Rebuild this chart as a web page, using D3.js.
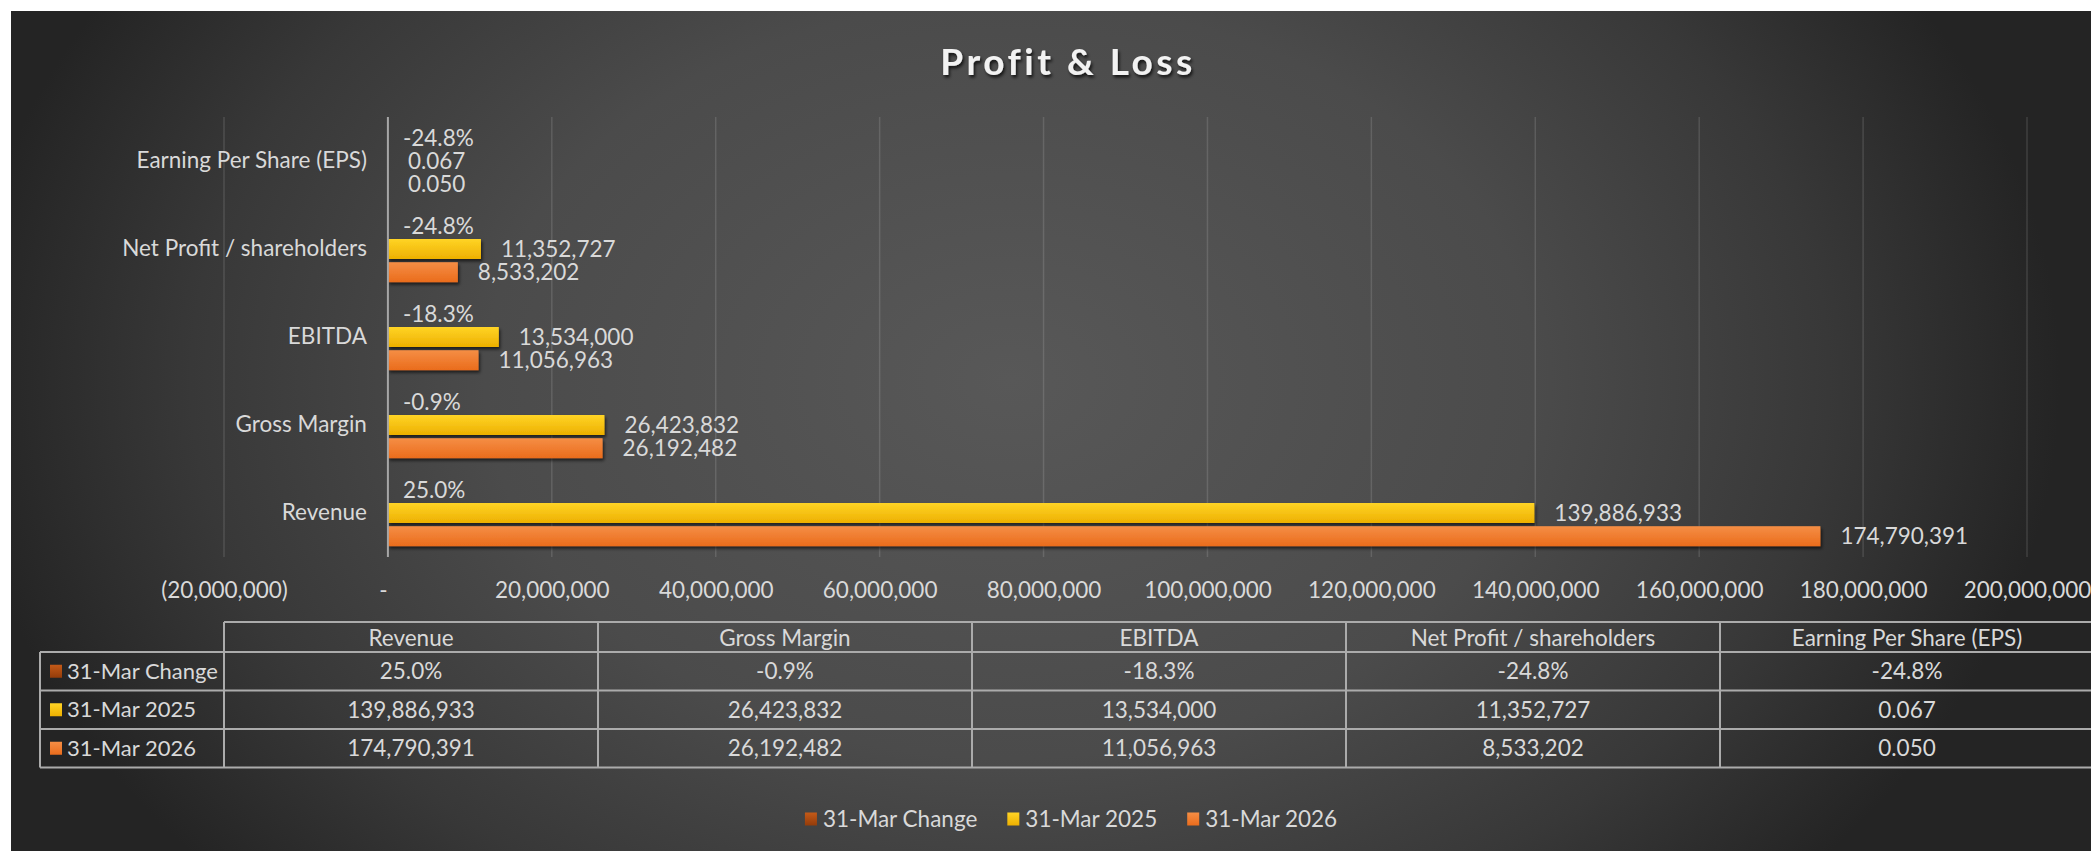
<!DOCTYPE html>
<html><head><meta charset="utf-8">
<script src="https://cdn.jsdelivr.net/npm/d3@7"></script>
<style>
html,body{margin:0;padding:0;background:#fff;}
svg{display:block;font-family:Lato,"Open Sans",sans-serif;}
</style></head><body>
<svg id="chart" width="2091" height="851"></svg>
<script>
// ---------- data ----------
const categories = ["Revenue","Gross Margin","EBITDA","Net Profit / shareholders","Earning Per Share (EPS)"];
const seriesNames = ["31-Mar Change","31-Mar 2025","31-Mar 2026"];
const changeValues = [0.250,-0.009,-0.183,-0.248,-0.248];
const values2025 = [139886933,26423832,13534000,11352727,0.067];
const values2026 = [174790391,26192482,11056963,8533202,0.050];
const xTickValues = [-20000000,0,20000000,40000000,60000000,80000000,100000000,120000000,140000000,160000000,180000000,200000000];
const chartTitle = "Profit & Loss";

// ---------- setup ----------
const seriesValues = [changeValues, values2025, values2026];
const seriesGrad = [["#C45A18","#943C0A"],["#FFD426","#EDB000"],["#F58E45","#EA6C1C"]];
const textCol = "#D9D9D9";
const fs = 22.5;

const loc = d3.formatLocale({decimal:".",thousands:",",grouping:[3],currency:["",""],minus:"-"});
const fmtPct = loc.format(".1%");
const fmtInt = loc.format(",.0f");
const fmtDec = loc.format(".3f");
const fmtVal = v => Math.abs(v) < 1 ? fmtDec(v) : fmtInt(v);
const fmtTick = v => v === 0 ? "-" : (v < 0 ? "(" + fmtInt(-v) + ")" : fmtInt(v));

const svg = d3.select("#chart");
const defs = svg.append("defs");

const bg = defs.append("radialGradient").attr("id","bg").attr("gradientUnits","userSpaceOnUse")
  .attr("cx",1010).attr("cy",380).attr("r",1050).attr("fx",1010).attr("fy",380)
  .attr("gradientTransform","translate(1010,380) scale(1,0.72) translate(-1010,-380)");
bg.append("stop").attr("offset",0).attr("stop-color","#585858");
bg.append("stop").attr("offset",0.5).attr("stop-color","#4b4b4b");
bg.append("stop").attr("offset",0.78).attr("stop-color","#383838");
bg.append("stop").attr("offset",1).attr("stop-color","#242424");

seriesGrad.forEach((g,i)=>{
  const lg = defs.append("linearGradient").attr("id","sg"+i).attr("x1",0).attr("y1",0).attr("x2",0).attr("y2",1);
  lg.append("stop").attr("offset",0).attr("stop-color",g[0]);
  lg.append("stop").attr("offset",1).attr("stop-color",g[1]);
});
const sh = defs.append("filter").attr("id","barShadow").attr("x","-5%").attr("y","-30%").attr("width","120%").attr("height","180%");
sh.append("feDropShadow").attr("dx",1.5).attr("dy",2.5).attr("stdDeviation",1.6).attr("flood-color","#000").attr("flood-opacity",0.6);
const tsh = defs.append("filter").attr("id","titleShadow").attr("x","-10%").attr("y","-30%").attr("width","120%").attr("height","180%");
tsh.append("feDropShadow").attr("dx",1.5).attr("dy",2.5).attr("stdDeviation",1.5).attr("flood-color","#000").attr("flood-opacity",0.75);

svg.append("rect").attr("x",11).attr("y",11).attr("width",2080).attr("height",840).attr("fill","url(#bg)");

// ---------- scales ----------
const x = d3.scaleLinear().domain([xTickValues[0], xTickValues[xTickValues.length-1]]).range([224, 2027]);
const y = d3.scaleBand().domain(categories.slice().reverse()).range([117, 557]);
const ys = d3.scaleBand().domain(seriesNames).range([-33.2, 33.2]).paddingInner(0.138);

// ---------- title ----------
svg.append("text").attr("x",1068).attr("y",60).attr("text-anchor","middle").attr("dominant-baseline","central")
  .attr("font-size",37).attr("font-weight",700).attr("letter-spacing",3.5).attr("fill","#F2F2F2")
  .attr("filter","url(#titleShadow)").text(chartTitle);

// ---------- gridlines ----------
svg.append("g").selectAll("line").data(xTickValues.filter(v=>v!==0)).join("line")
  .attr("x1",d=>x(d)).attr("x2",d=>x(d)).attr("y1",117).attr("y2",557)
  .attr("stroke","rgba(255,255,255,0.13)").attr("stroke-width",1.5);

// ---------- x axis labels ----------
const xa = svg.append("g").attr("transform","translate(0,590)")
  .call(d3.axisBottom(x).tickValues(xTickValues).tickFormat(fmtTick).tickSize(0).tickPadding(0));
xa.select(".domain").remove();
xa.selectAll("text").attr("y",0).attr("dy","0.35em").attr("fill",textCol).attr("font-size",fs)
  .attr("font-family","Lato,'Open Sans',sans-serif")
  .attr("dx",d=>d===0?-5:0);

// ---------- category labels ----------
const ya = svg.append("g").attr("transform",`translate(${x(0)},0)`)
  .call(d3.axisLeft(y).tickSize(0).tickPadding(21));
ya.select(".domain").remove();
ya.selectAll("text").attr("fill",textCol).attr("font-size",fs).attr("font-family","Lato,'Open Sans',sans-serif");

// ---------- bars ----------
const barData = [];
categories.forEach((c,i)=>{
  seriesNames.forEach((s,k)=>{
    barData.push({cat:c, series:s, k:k, v:seriesValues[k][i]});
  });
});
const yc = d => y(d.cat) + y.bandwidth()/2 + ys(d.series);
svg.append("g").selectAll("rect").data(barData.filter(d=>d.k>0)).join("rect")
  .attr("x",d=>x(Math.min(0,d.v)))
  .attr("width",d=>Math.abs(x(d.v)-x(0)))
  .attr("y",d=>yc(d)).attr("height",ys.bandwidth())
  .attr("fill",d=>`url(#sg${d.k})`).attr("filter","url(#barShadow)");
svg.append("g").selectAll("rect").data(barData.filter(d=>d.k===0)).join("rect")
  .attr("x",d=>x(Math.min(0,d.v)))
  .attr("width",d=>Math.abs(x(d.v)-x(0)))
  .attr("y",d=>yc(d)).attr("height",ys.bandwidth())
  .attr("fill","url(#sg0)");

// axis line at zero
svg.append("line").attr("x1",x(0)).attr("x2",x(0)).attr("y1",117).attr("y2",557)
  .attr("stroke","#a6a6a6").attr("stroke-width",2);

// ---------- data labels ----------
svg.append("g").selectAll("text").data(barData).join("text")
  .attr("x",d=> d.k===0 ? x(0)+15 : x(Math.max(0,d.v))+20)
  .attr("y",d=>yc(d)+ys.bandwidth()/2)
  .attr("dy","0.35em")
  .attr("fill",textCol).attr("font-size",fs)
  .text(d=> d.k===0 ? fmtPct(d.v) : fmtVal(d.v));

// ---------- data table ----------
const tLeft = x(xTickValues[0]);
const colW = 374;
const rowHeaderLeft = 40;
const tRight = tLeft + colW*categories.length;
const hTop = 622, hBot = 652, rowH = 38.5;
const rowY = k => hBot + k*rowH;
const lineCol = "#ababab";
const tg = svg.append("g");
tg.append("line").attr("x1",tLeft).attr("x2",tRight).attr("y1",hTop).attr("y2",hTop).attr("stroke",lineCol).attr("stroke-width",2);
d3.range(seriesNames.length+1).forEach(k=>{
  tg.append("line").attr("x1",rowHeaderLeft).attr("x2",tRight).attr("y1",rowY(k)).attr("y2",rowY(k)).attr("stroke",lineCol).attr("stroke-width",2);
});
tg.append("line").attr("x1",rowHeaderLeft).attr("x2",rowHeaderLeft).attr("y1",hBot).attr("y2",rowY(seriesNames.length)).attr("stroke",lineCol).attr("stroke-width",2);
d3.range(categories.length+1).forEach(i=>{
  tg.append("line").attr("x1",tLeft+i*colW).attr("x2",tLeft+i*colW).attr("y1",hTop).attr("y2",rowY(seriesNames.length)).attr("stroke",lineCol).attr("stroke-width",2);
});
categories.forEach((c,i)=>{
  tg.append("text").attr("x",tLeft+(i+0.5)*colW).attr("y",(hTop+hBot)/2+1).attr("dy","0.35em")
    .attr("text-anchor","middle").attr("fill",textCol).attr("font-size",fs).text(c);
  seriesNames.forEach((s,k)=>{
    const v = seriesValues[k][i];
    tg.append("text").attr("x",tLeft+(i+0.5)*colW).attr("y",rowY(k)+rowH/2).attr("dy","0.35em")
      .attr("text-anchor","middle").attr("fill",textCol).attr("font-size",fs)
      .text(k===0 ? fmtPct(v) : fmtVal(v));
  });
});
seriesNames.forEach((s,k)=>{
  const cy = rowY(k)+rowH/2;
  tg.append("rect").attr("x",50).attr("y",cy-6.5).attr("width",12).attr("height",13).attr("fill",`url(#sg${k})`);
  tg.append("text").attr("x",67).attr("y",cy).attr("dy","0.35em").attr("fill",textCol).attr("font-size",fs-0.5).text(s);
});

// ---------- legend ----------
const lg = svg.append("g");
const items = seriesNames.map((s,k)=>{
  const g = lg.append("g");
  g.append("rect").attr("x",0).attr("y",-6.5).attr("width",12).attr("height",13).attr("fill",`url(#sg${k})`);
  const t = g.append("text").attr("x",18).attr("y",0).attr("dy","0.35em").attr("fill",textCol).attr("font-size",fs).text(s);
  return {g, w: 18 + t.node().getComputedTextLength()};
});
const gapL = 30;
const totalW = d3.sum(items, d=>d.w) + gapL*(items.length-1);
let lx = 1071 - totalW/2;
items.forEach(it=>{ it.g.attr("transform",`translate(${lx},819)`); lx += it.w + gapL; });
</script>
</body></html>
